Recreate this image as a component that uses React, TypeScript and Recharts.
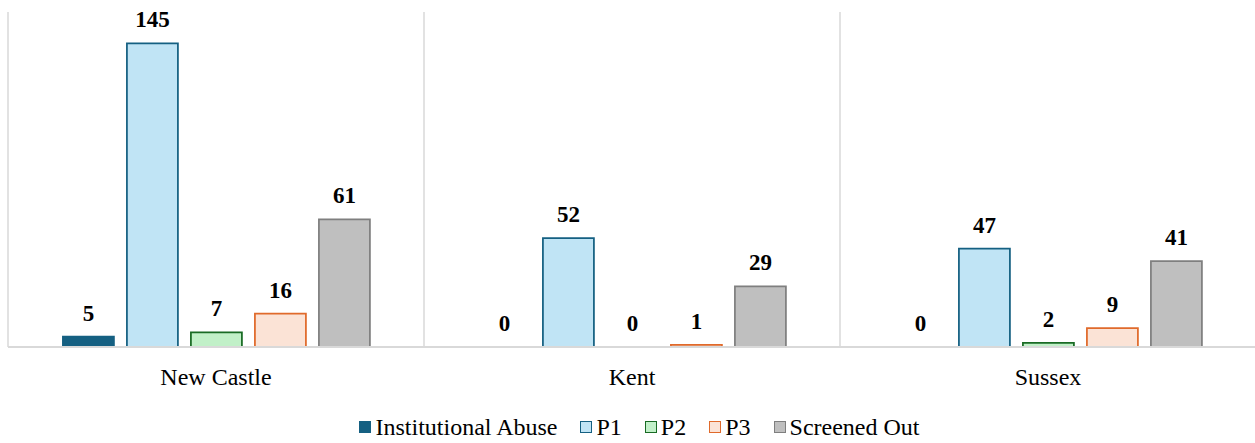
import React from "react";
import { BarChart, Bar, XAxis, YAxis, CartesianGrid, LabelList, Rectangle } from "recharts";

const regions = ["New Castle", "Kent", "Sussex"];
const institutionalAbuse = [5, 0, 0];
const p1 = [145, 52, 47];
const p2 = [7, 0, 2];
const p3 = [16, 1, 9];
const screenedOut = [61, 29, 41];

const series = [
  { key: "ia", name: "Institutional Abuse", values: institutionalAbuse, fill: "#156082", stroke: "#156082" },
  { key: "p1", name: "P1", values: p1, fill: "#c0e4f5", stroke: "#156082" },
  { key: "p2", name: "P2", values: p2, fill: "#c1f0c8", stroke: "#196b24" },
  { key: "p3", name: "P3", values: p3, fill: "#fbe3d6", stroke: "#e06a2b" },
  { key: "so", name: "Screened Out", values: screenedOut, fill: "#bfbfbf", stroke: "#7f7f7f" },
];

const rows = regions.map((region, i) => {
  const row: Record<string, string | number> = { region };
  series.forEach((s) => {
    row[s.key] = s.values[i];
  });
  return row;
});

const FONT = '"Liberation Serif", "Times New Roman", serif';
const GRID = "#d9d9d9";

// vertical separators sit on the category boundaries, not the tick centres
const boundaryLines = ({ offset }: any) =>
  regions.map((_, i) => offset.left + (i * offset.width) / regions.length);

// zero values keep a tiny rect so their "0" label still gets placed, but draw nothing
const barShape = (dataKey: string) => (props: any) =>
  props.payload && props.payload[dataKey] === 0 ? <g /> : <Rectangle {...props} />;

export default function App() {
  return (
    <div style={{ position: "relative", width: 1255, height: 443, overflow: "hidden", fontFamily: FONT }}>
      <style>{`body { margin: 0; }`}</style>
      <BarChart
        width={1256}
        height={443}
        data={rows}
        margin={{ top: 12, right: 0, left: 8, bottom: 66 }}
        barGap={13}
        barCategoryGap="13.2%"
      >
        <CartesianGrid
          horizontal={false}
          stroke={GRID}
          strokeWidth={1.5}
          verticalCoordinatesGenerator={boundaryLines}
        />
        <XAxis
          dataKey="region"
          height={30}
          tickLine={false}
          axisLine={{ stroke: GRID, strokeWidth: 2 }}
          tickMargin={15}
          tick={{ fill: "#000", fontSize: 24, fontFamily: FONT }}
        />
        <YAxis hide domain={[0, 160]} />
        {series.map((s) => (
          <Bar
            key={s.key}
            dataKey={s.key}
            name={s.name}
            fill={s.fill}
            stroke={s.stroke}
            strokeWidth={1.75}
            minPointSize={0.01}
            shape={barShape(s.key)}
            isAnimationActive={false}
          >
            <LabelList
              dataKey={s.key}
              position="top"
              offset={16}
              style={{ fill: "#000", fontSize: 23, fontWeight: "bold", fontFamily: FONT }}
            />
          </Bar>
        ))}
      </BarChart>
      <div
        style={{
          position: "absolute",
          left: 0,
          top: 414,
          width: 1255,
          paddingLeft: 24,
          boxSizing: "border-box",
          display: "flex",
          justifyContent: "center",
          alignItems: "center",
          gap: 23,
          fontFamily: FONT,
          fontSize: 24,
          lineHeight: "26px",
          color: "#000",
        }}
      >
        {series.map((s) => (
          <div key={s.key} style={{ display: "flex", alignItems: "center", gap: 4 }}>
            <span
              style={{
                display: "inline-block",
                width: 10,
                height: 10,
                background: s.fill,
                border: `1.5px solid ${s.stroke}`,
              }}
            />
            <span style={{ fontFamily: FONT }}>{s.name}</span>
          </div>
        ))}
      </div>
    </div>
  );
}
